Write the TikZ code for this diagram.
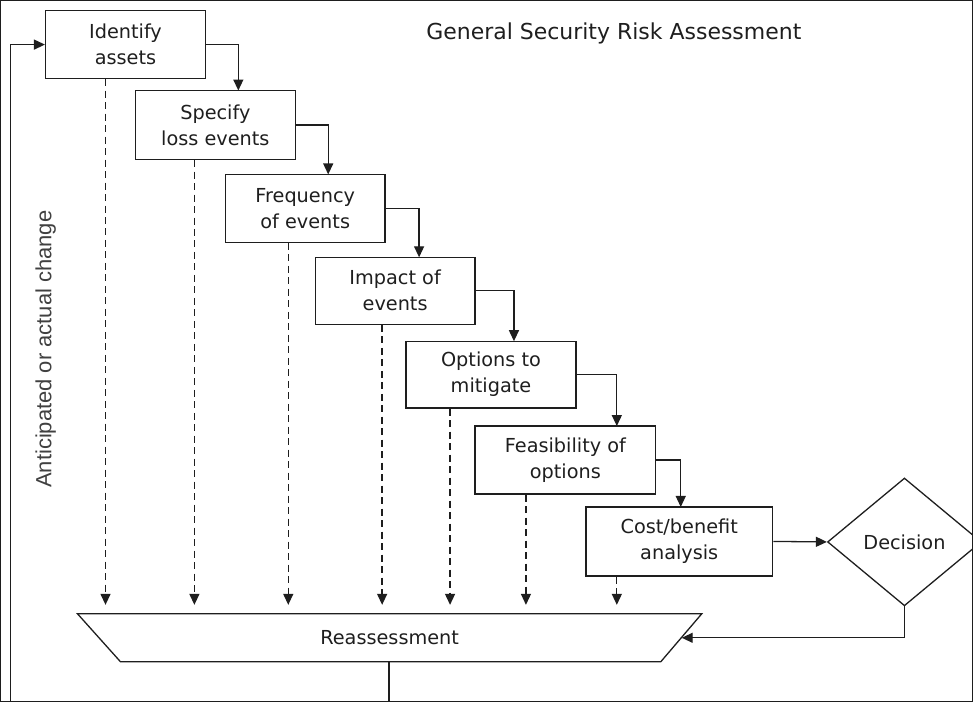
\documentclass[tikz,border=0pt]{standalone}
\usepackage{fontspec}
\setmainfont{DejaVu Sans}
\newfontfamily\vfont{Liberation Sans}
\usetikzlibrary{arrows.meta,shapes.geometric}
\definecolor{ink}{RGB}{30,30,30}
\begin{document}
\begin{tikzpicture}[x=1pt,y=-1pt,
  every path/.style={draw=ink, line width=1.3pt},
  box/.style={draw=ink, line width=1.3pt, rectangle, inner sep=0pt, align=center,
    font=\fontsize{19.3}{26}\selectfont, text=ink},
  arr/.style={-{Triangle[length=11pt,width=10pt]}},
  darr/.style={dash pattern=on 7pt off 4.5pt, -{Triangle[length=11pt,width=10pt]}},
  lbl/.style={inner sep=0pt, text=ink}]
\useasboundingbox (0,0) rectangle (973,702);

% boxes
\node[box, minimum width=160pt, minimum height=68pt] (b1) at (125,44) {Identify\\assets};
\node[box, minimum width=160pt, minimum height=69pt] (b2) at (215,124.5) {Specify\\loss events};
\node[box, minimum width=160pt, minimum height=68pt] (b3) at (305,208) {Frequency\\of events};
\node[box, minimum width=160pt, minimum height=67pt] (b4) at (395,290.5) {Impact of\\events};
\node[box, minimum width=170pt, minimum height=67pt] (b5) at (491,374.5) {Options to\\mitigate};
\node[box, minimum width=181pt, minimum height=68pt] (b6) at (565.5,460) {Feasibility of\\options};
\node[box, minimum width=187pt, minimum height=69pt] (b7) at (679.5,541.5) {Cost/benefit\\analysis};
\node[box, diamond, minimum width=154pt, minimum height=128pt] (dec) at (905,542) {Decision};

% title and side label
\node[lbl, font=\fontsize{22}{26}\selectfont] (title) at (614,33) {General Security Risk Assessment};
\node[lbl, rotate=90, text=ink!85, font=\vfont\fontsize{22}{26}\selectfont] (side) at (45,349) {Anticipated or actual change};

% reassessment trapezoid
\coordinate (tl) at (77,614);
\coordinate (tr) at (702,614);
\coordinate (br) at (661,662);
\coordinate (bl) at (120,662);
\draw (tl) -- (tr) -- (br) -- (bl) -- cycle;
\node[lbl, font=\fontsize{19.3}{26}\selectfont] (rea) at (389.5,638) {Reassessment};

% turning points
\coordinate (t12) at (238,90);
\coordinate (t23) at (328,174);
\coordinate (t34) at (419,257);
\coordinate (t45) at (514,341);
\coordinate (t56) at (617,426);
\coordinate (t67) at (681,507);
\draw[arr] (b1.east) -| (t12);
\draw[arr] (b2.east) -| (t23);
\draw[arr] (b3.east) -| (t34);
\draw[arr] (b4.east) -| (t45);
\draw[arr] (b5.east) -| (t56);
\draw[arr] (b6.east) -| (t67);
\draw[arr] (b7.east) -- (dec.west);

% dashed arrows to reassessment
\draw[darr] (b1.south -| 105,0) -- (105,605);
\draw[darr] (b2.south -| 194,0) -- (194,605);
\draw[darr] (b3.south -| 288,0) -- (288,605);
\draw[darr] (b4.south -| 382,0) -- (382,605);
\draw[darr] (b5.south -| 450,0) -- (450,605);
\draw[darr] (b6.south -| 526,0) -- (526,605);
\draw[darr] (b7.south -| 617,0) -- (617,605);

% decision back to reassessment
\coordinate (rin) at (682,638);
\draw[arr] (dec.south) |- (rin);

% feedback loop
\coordinate (rout) at (389,662);
\coordinate (rbot) at (389,702);
\coordinate (lbot) at (10,702);
\draw (rout) -- (rbot);
\draw[arr] (lbot) |- (b1.west);
\end{tikzpicture}
\end{document}
